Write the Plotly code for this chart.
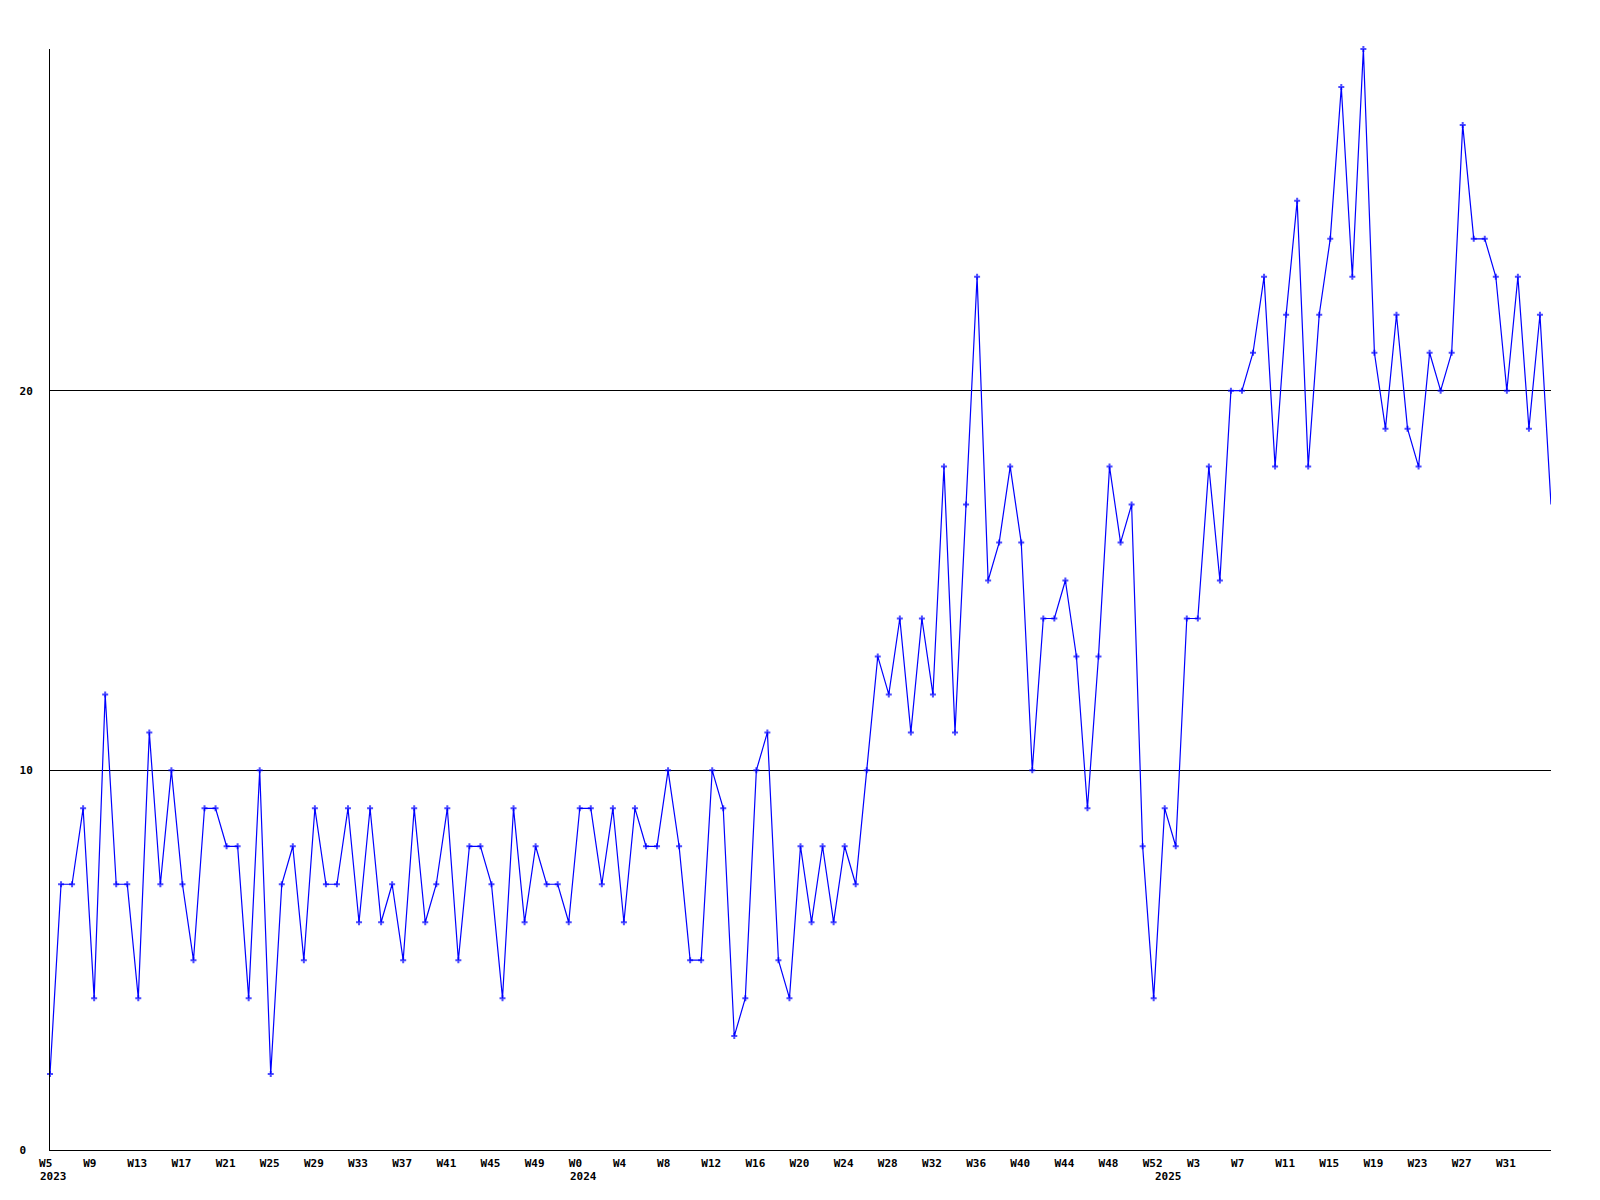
import plotly.graph_objects as go

# ---- data (weekly counts) ----
years = [2023, 2024, 2025]
weeks_2023 = list(range(5, 53))   # W5 .. W52
weeks_2024 = list(range(0, 53))   # W0 .. W52
weeks_2025 = list(range(0, 36))   # W0 .. W35

values_2023 = [2, 7, 7, 9, 4, 12, 7, 7, 4, 11,
               7, 10, 7, 5, 9, 9, 8, 8, 4, 10,
               2, 7, 8, 5, 9, 7, 7, 9, 6, 9,
               6, 7, 5, 9, 6, 7, 9, 5, 8, 8,
               7, 4, 9, 6, 8, 7, 7, 6]
values_2024 = [9, 9, 7, 9, 6, 9, 8, 8, 10, 8,
               5, 5, 10, 9, 3, 4, 10, 11, 5, 4,
               8, 6, 8, 6, 8, 7, 10, 13, 12, 14,
               11, 14, 12, 18, 11, 17, 23, 15, 16, 18,
               16, 10, 14, 14, 15, 13, 9, 13, 18, 16,
               17, 8, 4]
values_2025 = [9, 8, 14, 14, 18, 15, 20, 20, 21, 23,
               18, 22, 25, 18, 22, 24, 28, 23, 29, 21,
               19, 22, 19, 18, 21, 20, 21, 27, 24, 24,
               23, 20, 23, 19, 22, 17]

y_ticks = [0, 10, 20]
y_max = 29

# ---- build series ----
weeks_by_year = [weeks_2023, weeks_2024, weeks_2025]
categories = []
week_labels = []
for yr, wks in zip(years, weeks_by_year):
    for w in wks:
        categories.append(f"{yr}-W{w}")
        week_labels.append(f"W{w}")
values = values_2023 + values_2024 + values_2025
n = len(values)

tickvals = categories[:n - 1:4]
ticktext = [lbl + "\u00a0" * (3 - len(lbl)) for lbl in week_labels[:n - 1:4]]
year_starts = [f"{yr}-W{wks[0]}" for yr, wks in zip(years, weeks_by_year)]

marker_sizes = [5] * (n - 1) + [0]

FONT = "DejaVu Sans Mono"

fig = go.Figure()
fig.add_trace(go.Scatter(
    x=categories, y=values, mode="lines+markers",
    line=dict(color="#0000ff", width=1.2),
    marker=dict(symbol="cross", size=marker_sizes, color="#0000ff", line=dict(width=0)),
    cliponaxis=False, showlegend=False, hoverinfo="x+y",
))

annotations = []
for yr, cat in zip(years, year_starts):
    annotations.append(dict(
        x=cat, xref="x", y=0, yref="paper", text=str(yr), showarrow=False,
        xanchor="left", yanchor="middle", xshift=-12, yshift=-26,
        font=dict(family=FONT, size=11, color="black", weight="bold"),
    ))

fig.update_layout(
    width=1600, height=1200,
    margin=dict(l=42, r=57, t=41, b=58, autoexpand=False),
    paper_bgcolor="white", plot_bgcolor="white",
    font=dict(family=FONT, size=11, color="black", weight="bold"),
    annotations=annotations,
    xaxis=dict(
        type="category", range=[0, n - 1],
        tickmode="array", tickvals=tickvals, ticktext=ticktext,
        showgrid=False, zeroline=False, showline=True, linecolor="black", linewidth=1,
        ticks="", tickangle=0, ticklabelstandoff=3, ticklabelshift=-1,
        tickfont=dict(family=FONT, size=11, color="black", weight="bold"),
    ),
    yaxis=dict(
        range=[0, y_max], tickmode="array", tickvals=y_ticks,
        ticktext=[str(v) + "\u00a0" * (2 - len(str(v))) for v in y_ticks],
        showgrid=True, gridcolor="black", gridwidth=1, zeroline=False,
        showline=True, linecolor="black", linewidth=1, ticks="",
        ticklabelstandoff=14,
        tickfont=dict(family=FONT, size=11, color="black", weight="bold"),
    ),
)

fig.write_html("out.html")
